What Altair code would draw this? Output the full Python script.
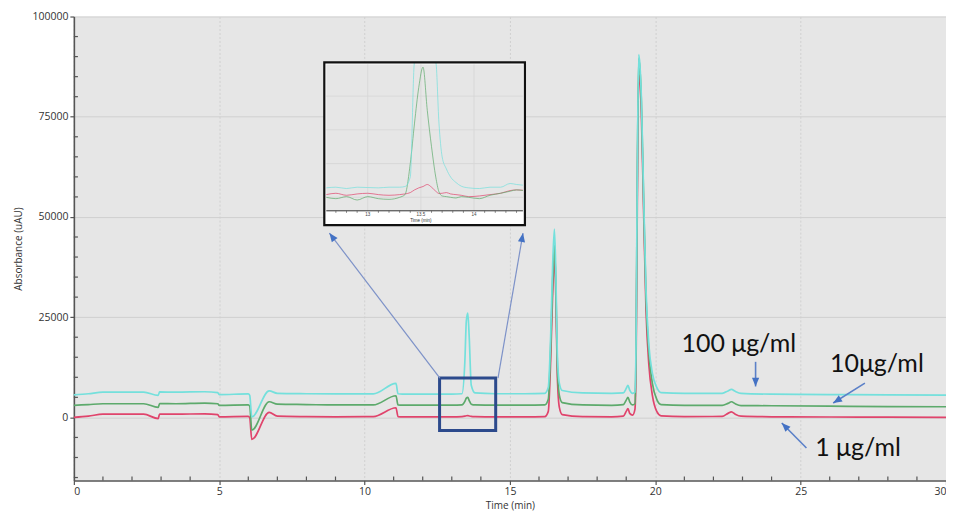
import altair as alt
import pandas as pd

# ---------------- main chromatogram data ----------------
time_min = [0, 0.5, 1.0, 2.4, 2.9, 2.95, 3.5, 4.5, 4.95, 5.0, 6.0, 6.05, 6.12, 6.72, 7.0,
            8, 9, 10.3, 11.08, 11.15, 11.3, 12, 13.0, 13.35, 13.45, 13.5, 13.55, 13.6,
            13.67, 13.8, 14.5, 15.5, 16.2, 16.32, 16.4, 16.47, 16.53, 16.58, 16.63, 16.7,
            16.8, 17.5, 18.5, 18.9, 19.0, 19.06, 19.12, 19.22, 19.3, 19.34, 19.38, 19.43,
            19.47, 19.52, 19.6, 19.68, 19.78, 19.9, 20.05, 20.2, 21, 22.3, 22.5, 22.62,
            22.75, 22.95, 24, 26, 28, 30]

abs_100 = [5600, 5900, 6300, 6300, 5500, 6350, 6300, 6400, 6200, 5700, 5850, 5500, 100, 6600, 6000,
           5900, 5850, 5850, 8500, 5900, 5800, 5800, 5800, 5900, 14000, 24000, 26000, 20000,
           8000, 6100, 5900, 5900, 6000, 7500, 20000, 38000, 47000, 36000, 16000, 8500,
           6700, 6100, 6000, 6100, 7200, 8000, 6800, 6000, 6300, 20000, 60000, 90500,
           88000, 80000, 55000, 32000, 18000, 11000, 7500, 6200, 6000, 6000, 6600, 7000,
           6500, 6000, 5800, 5700, 5600, 5550]

abs_10 = [3000, 3200, 3400, 3400, 2500, 3450, 3400, 3550, 3400, 3000, 3100, 2800, -3200, 3900, 3300,
          3200, 3100, 3100, 5400, 3100, 3050, 3050, 3050, 3100, 4000, 4800, 5000, 4200,
          3300, 3100, 3050, 3050, 3100, 4500, 17000, 34000, 43000, 33000, 13000, 5500,
          3700, 3100, 3000, 3200, 4300, 5000, 3900, 3100, 3400, 18000, 58000, 89500,
          87000, 79000, 54000, 30000, 16000, 8500, 4500, 3200, 3000, 3000, 3500, 3900,
          3400, 2950, 2900, 2800, 2700, 2650]

abs_1 = [0, 300, 800, 800, -300, 850, 800, 900, 700, 150, 250, -100, -5500, 1250, 300,
         200, 150, 200, 2400, 200, 150, 150, 150, 200, 300, 400, 450, 350,
         250, 200, 150, 150, 200, 1500, 14000, 31000, 40000, 30000, 10500, 2500,
         700, 200, 150, 300, 1500, 2200, 1000, 550, 2000, 14000, 52000, 85500,
         84000, 76000, 51000, 27000, 13000, 5500, 1500, 400, 200, 250, 1000, 1400,
         800, 300, 150, 100, 50, 0]

# ---------------- inset (zoom 12.6 - 14.46 min) ----------------
inset_time = [12.61, 12.7, 12.8, 12.9, 13.0, 13.1, 13.2, 13.3, 13.35, 13.4, 13.44, 13.48, 13.52,
              13.56, 13.6, 13.64, 13.67, 13.7, 13.74, 13.78, 13.83, 13.88, 13.95, 14.05, 14.15,
              14.25, 14.34, 14.4, 14.46]
inset_100 = [140, 150, 130, 150, 145, 140, 150, 150, 160, 300, 2800, 3500, 4000,
             3500, 3000, 2200, 1100, 600, 420, 300, 220, 165, 140, 130, 150,
             150, 205, 190, 180]
inset_10 = [0, -20, 10, -40, 10, -20, -30, 0, 40, 500, 1100, 1630, 1930,
            1290, 750, 300, 81, 20, 10, 0, -10, 10, 0, -20, 30,
            60, 90, 110, 100]
inset_1 = [40, 60, 30, 50, 60, 40, 30, 40, 50, 70, 110, 140, 160,
           190, 150, 90, 57, 60, 70, 50, 40, 30, 10, 20, 40,
           60, 100, 110, 106]

series_names = ["1 μg/ml", "10 μg/ml", "100 μg/ml"]
series_colors = ["#e0446c", "#5daa6c", "#74e0dc"]

x_ticks = [0, 5, 10, 15, 20, 25, 30]
y_ticks = [0, 25000, 50000, 75000, 100000]
x_minor = [t for t in range(1, 30) if t % 5 != 0]
y_minor = [v for v in range(-15000, 100000, 5000) if v % 25000 != 0]

# annotations
label_text = ["100 μg/ml", "10μg/ml", "1 μg/ml"]
label_t = [20.9, 26.01, 25.5]
label_v = [16250, 11270, -9630]

arrow_t0 = [23.45, 27.21, 25.20]
arrow_v0 = [13860, 8560, -7620]
arrow_t1 = [23.45, 26.12, 24.35]
arrow_v1 = [7720, 3580, -1390]
arrow_angle = [180, 238, 315]

conn_t0 = [12.59, 14.59]
conn_v0 = [9800, 9800]
conn_t1 = [8.79, 15.45]
conn_v1 = [45970, 45970]
conn_angle = [323, 10]

zoom_box = {"t": 12.58, "t2": 14.51, "v": 9810, "v2": -3240}

inset_x_labels = [13, 13.5, 14]
inset_x_text = ["13", "13.5", "14"]
inset_minor = [12.7, 12.8, 12.9, 13.1, 13.2, 13.3, 13.4, 13.6, 13.7, 13.8, 13.9, 14.1, 14.2, 14.3, 14.4]
inset_hgrid = [0, 500, 1000, 1500]

X_DOM = [0, 30]
Y_DOM = [-15750, 100000]
IN_X_DOM = [12.61, 14.46]
IN_Y_DOM = [-200, 1970]

# ---------------- main layers ----------------
x_enc = alt.X("t:Q", scale=alt.Scale(domain=X_DOM, nice=False, zero=False),
              axis=alt.Axis(values=x_ticks, title="Time (min)", format="d", grid=True,
                            gridDash=[2, 2], labelPadding=2, titlePadding=4))
y_enc = alt.Y("v:Q", scale=alt.Scale(domain=Y_DOM, nice=False, zero=False),
              axis=alt.Axis(values=y_ticks, title="Absorbance (uAU)", format="d", grid=True,
                            labelPadding=2, titlePadding=8))

layers = []

minor_x_df = pd.DataFrame({"t": x_minor, "v": [Y_DOM[0]] * len(x_minor),
                           "v2": [Y_DOM[0] + 1000] * len(x_minor)})
layers.append(alt.Chart(minor_x_df).mark_rule(color="#555555", strokeWidth=1.2).encode(
    x=x_enc, y=y_enc, y2="v2:Q"))
minor_y_df = pd.DataFrame({"t": [0.0] * len(y_minor), "t2": [0.14] * len(y_minor), "v": y_minor})
layers.append(alt.Chart(minor_y_df).mark_rule(color="#555555", strokeWidth=1.2).encode(
    x=x_enc, x2="t2:Q", y=y_enc))

for name, vals, col in zip(series_names, [abs_1, abs_10, abs_100], series_colors):
    df = pd.DataFrame({"t": time_min, "v": vals, "series": name})
    layers.append(alt.Chart(df).mark_line(color=col, strokeWidth=1.7, interpolate="monotone").encode(
        x=x_enc, y=y_enc))

box_df = pd.DataFrame([zoom_box])
layers.append(alt.Chart(box_df).mark_rect(fillOpacity=0, stroke="#2c4a8c", strokeWidth=3).encode(
    x=x_enc, x2="t2:Q", y=y_enc, y2="v2:Q"))

conn_df = pd.DataFrame({"t": conn_t0, "v": conn_v0, "t2": conn_t1, "v2": conn_v1, "ang": conn_angle})
layers.append(alt.Chart(conn_df).mark_rule(color="#7d92c8", strokeWidth=1.2).encode(
    x=x_enc, y=y_enc, x2="t2:Q", y2="v2:Q"))

arrow_df = pd.DataFrame({"t": arrow_t0, "v": arrow_v0, "t2": arrow_t1, "v2": arrow_v1, "ang": arrow_angle})
layers.append(alt.Chart(arrow_df).mark_rule(color="#5b80c8", strokeWidth=1.6).encode(
    x=x_enc, y=y_enc, x2="t2:Q", y2="v2:Q"))

head_shape = "M0,0L0.9,2.2L-0.9,2.2Z"
heads_df = pd.DataFrame({"t": arrow_t1 + conn_t1, "v": arrow_v1 + conn_v1,
                         "ang": arrow_angle + conn_angle})
layers.append(alt.Chart(heads_df).mark_point(shape=head_shape, filled=True, size=64, opacity=1,
                                             color="#4472c4").encode(
    x=x_enc, y=y_enc, angle=alt.Angle("ang:Q", scale=None)))

label_df = pd.DataFrame({"t": label_t, "v": label_v, "txt": label_text})
layers.append(alt.Chart(label_df).mark_text(font="Lato", fontSize=25, align="left",
                                            baseline="alphabetic", color="#111111").encode(
    x=x_enc, y=y_enc, text="txt:N"))

main = alt.layer(*layers)

# ---------------- inset layers ----------------
ix = alt.X("t:Q", scale=alt.Scale(domain=IN_X_DOM, range=[253, 450], nice=False, zero=False), axis=None)
iy = alt.Y("v:Q", scale=alt.Scale(domain=IN_Y_DOM, range=[194.7, 48], nice=False, zero=False), axis=None)

frame_df = pd.DataFrame([{"t": 12.591, "t2": 14.479, "v": -411, "v2": 2000}])
plotbg_df = pd.DataFrame([{"t": IN_X_DOM[0], "t2": IN_X_DOM[1], "v": IN_Y_DOM[0], "v2": IN_Y_DOM[1]}])

inset_layers = [
    alt.Chart(frame_df).mark_rect(fill="white").encode(x=ix, x2="t2:Q", y=iy, y2="v2:Q"),
    alt.Chart(plotbg_df).mark_rect(fill="#e6e6e6").encode(x=ix, x2="t2:Q", y=iy, y2="v2:Q"),
]
vg_df = pd.DataFrame({"t": inset_x_labels, "v": [IN_Y_DOM[0]] * 3, "v2": [IN_Y_DOM[1]] * 3})
inset_layers.append(alt.Chart(vg_df).mark_rule(color="#d6d6d6", strokeWidth=0.8).encode(
    x=ix, y=iy, y2="v2:Q"))
hg_df = pd.DataFrame({"t": [IN_X_DOM[0]] * 4, "t2": [IN_X_DOM[1]] * 4, "v": inset_hgrid})
inset_layers.append(alt.Chart(hg_df).mark_rule(color="#d6d6d6", strokeWidth=0.8).encode(
    x=ix, x2="t2:Q", y=iy))

for name, vals, col in zip(series_names, [inset_1, inset_10, inset_100], series_colors):
    df = pd.DataFrame({"t": inset_time, "v": vals, "series": name})
    ch = alt.Chart(df).transform_calculate(vc="min(datum.v, 2000)")
    inset_layers.append(ch.mark_line(color=col, strokeWidth=1.0, opacity=0.7,
                                     interpolate="monotone").encode(
        x=ix, y=alt.Y("vc:Q", scale=alt.Scale(domain=IN_Y_DOM, range=[194.7, 48], nice=False, zero=False),
                      axis=None)))

axis_df = pd.DataFrame([{"t": IN_X_DOM[0], "t2": IN_X_DOM[1], "v": IN_Y_DOM[0]}])
inset_layers.append(alt.Chart(axis_df).mark_rule(color="#333333", strokeWidth=1).encode(
    x=ix, x2="t2:Q", y=iy))
itick_df = pd.DataFrame({"t": inset_minor, "v": [IN_Y_DOM[0]] * len(inset_minor),
                         "v2": [IN_Y_DOM[0] - 30] * len(inset_minor)})
inset_layers.append(alt.Chart(itick_df).mark_rule(color="#555555", strokeWidth=0.7).encode(
    x=ix, y=iy, y2="v2:Q"))
ilab_df = pd.DataFrame({"t": inset_x_labels, "v": [-264] * 3, "txt": inset_x_text})
inset_layers.append(alt.Chart(ilab_df).mark_text(fontSize=4.5, color="#444444", baseline="middle").encode(
    x=ix, y=iy, text="txt:N"))
ititle_df = pd.DataFrame([{"t": 13.5, "v": -352, "txt": "Time (min)"}])
inset_layers.append(alt.Chart(ititle_df).mark_text(fontSize=4.5, color="#333333", baseline="middle").encode(
    x=ix, y=iy, text="txt:N"))
inset_layers.append(alt.Chart(frame_df).mark_rect(fillOpacity=0, stroke="#111111", strokeWidth=2.2).encode(
    x=ix, x2="t2:Q", y=iy, y2="v2:Q"))

inset = alt.layer(*inset_layers)

chart = alt.layer(main, inset).resolve_scale(x="independent", y="independent").properties(
    width=874, height=465,
    autosize=alt.AutoSizeParams(type="none"),
    padding={"left": 66, "top": 8, "right": 0, "bottom": 32},
    background="white",
).configure_view(fill="#e6e6e6", strokeWidth=0).configure_axis(
    labelFont="Open Sans", titleFont="Open Sans", labelFontSize=10.5, titleFontSize=10,
    titleFontWeight="normal", labelColor="#333333", titleColor="#333333",
    domainColor="#555555", domainWidth=1.6, tickColor="#555555", tickWidth=1.2, tickSize=4,
    gridColor="#d0d0d0", gridWidth=1,
)

chart.save("out.html", embed_options={"renderer": "svg", "actions": False})
